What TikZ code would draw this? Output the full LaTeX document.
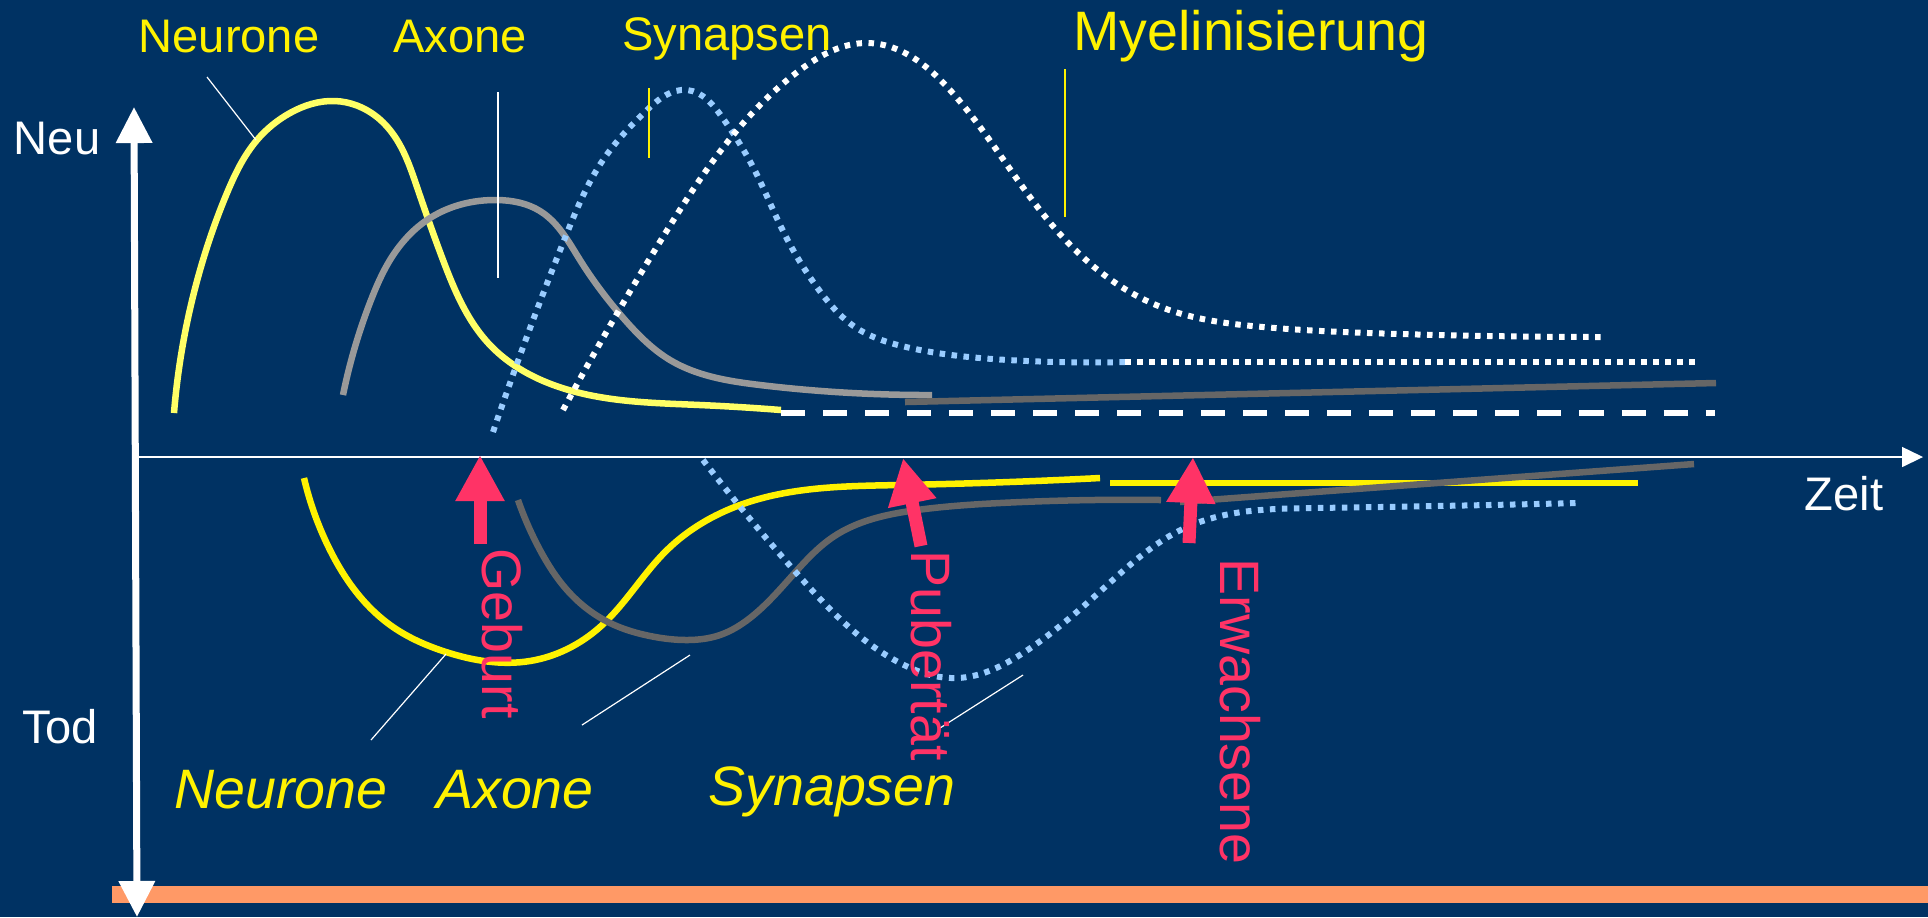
\documentclass[tikz,border=0pt]{standalone}
\usepackage{fontspec}
\setmainfont{Liberation Sans}
\usetikzlibrary{arrows.meta,hobby}
\definecolor{bgblue}{RGB}{0,50,99}
\definecolor{paleyellow}{RGB}{255,255,102}
\definecolor{lightgrey}{RGB}{153,153,153}
\definecolor{darkgrey}{RGB}{102,102,102}
\definecolor{dotblue}{RGB}{153,204,255}
\definecolor{evpink}{RGB}{255,51,102}
\definecolor{barorange}{RGB}{255,153,102}
\begin{document}
\begin{tikzpicture}[x=0.01cm,y=-0.01cm,
every node/.style={inner sep=0pt},
lbl/.style={text=yellow,anchor=base,font=\fontsize{13.4}{16}\selectfont},
biglbl/.style={text=yellow,anchor=base,font=\fontsize{15.8}{19}\selectfont},
italbl/.style={text=yellow,anchor=base,font=\fontsize{15.8}{19}\selectfont\itshape},
axlbl/.style={text=white,anchor=base,font=\fontsize{13.4}{16}\selectfont},
eventlbl/.style={text=evpink,rotate=-90,anchor=base west,font=\fontsize{15.8}{19}\selectfont},
evarrow/.style={evpink,line width=0.13cm,-{Triangle[width=0.46cm,length=0.46cm]}},
curve/.style={line width=0.065cm},
dots/.style={line width=0.06cm,dash pattern=on 0.055cm off 0.065cm},
ptr/.style={white,line width=0.012cm}]

\useasboundingbox (0,0) rectangle (1928,917);
\fill[bgblue] (0,0) rectangle (1928,917);
\fill[barorange] (112,886) rectangle (1928,903);

% upper curves
\draw[curve,paleyellow] (174,413) to[curve through={(203,260) (227,193) (257,140) (290,113)
  (335,101) (377,117) (397,140) (417,187) (443,260) (490,345) (580,393) (700,405)}] (781,410);
\draw[white,line width=0.055cm,dash pattern=on 0.24cm off 0.18cm] (781,413) -- (1715,413);
\draw[curve,lightgrey] (343,395) to[curve through={(371,300) (390,260) (427,220) (497,200)
  (540,211) (580,260) (625,320) (670,360) (760,385)}] (932,395);
\draw[darkgrey,line width=0.065cm] (905,402) -- (1716,383);
\draw[curve,dots,dotblue] (493,432) to[curve through={(567,233) (603,160) (647,110) (687,90)
  (722,117) (753,167) (784,233) (819,290) (855,327) (906,347) (1008,360)}] (1125,362);
\draw[dots,white] (1125,362) -- (1697,362);
\draw[curve,dots,white] (563,410) to[curve through={(666,232) (800,70) (867,43)
  (950,90) (1059,233) (1161,307) (1263,327) (1400,334)}] (1602,337);

% lower curves
\draw[curve,yellow] (304,478) to[curve through={(330,550) (357,593) (393,627) (446,652)
  (530,661) (600,627) (667,550) (740,505) (900,485)}] (1100,478);
\draw[yellow,line width=0.065cm] (1110,483) -- (1638,483);
\draw[curve,darkgrey] (518,500) to[curve through={(540,550) (567,590) (610,623) (650,636)
  (687,640) (720,635) (750,618) (800,567) (833,537) (917,510) (1000,503)}] (1161,500);
\draw[darkgrey,line width=0.065cm] (1180,502) -- (1694,464);
\draw[curve,dots,dotblue] (703,460) to[curve through={(800,577) (900,663) (957,678)
  (1023,653) (1105,587) (1187,527) (1314,508)}] (1580,503);

% axes
\draw[white,line width=0.015cm,-{Triangle[width=0.2cm,length=0.21cm]}] (138,457) -- (1923,457);
\draw[white,line width=0.07cm,{Triangle[width=0.35cm,length=0.36cm]}-{Triangle[width=0.35cm,length=0.36cm]}]
  (134,107) -- (137,917);

% pointers
\draw[ptr] (207,77) -- (256,140);
\draw[ptr] (498,92) -- (498,278);
\draw[yellow,line width=0.012cm] (649,88) -- (649,158);
\draw[yellow,line width=0.012cm] (1065,69) -- (1065,217);
\draw[ptr] (446,654) -- (371,740);
\draw[ptr] (690,655) -- (582,725);
\draw[ptr] (1023,675) -- (940,728);

% events
\draw[evarrow] (480,544) -- (480,455);
\draw[evarrow] (921,546) -- (903,458);
\draw[evarrow] (1189,543) -- (1193,457);

% labels
\node[lbl] (neuroneup) at (229,52) {Neurone};
\node[lbl] (axoneup) at (460,52) {Axone};
\node[lbl] (synapsenup) at (727,50) {Synapsen};
\node[biglbl] (myelin) at (1251,50) {Myelinisierung};
\node[axlbl] (neu) at (57,154) {Neu};
\node[axlbl] (tod) at (60,743) {Tod};
\node[axlbl] (zeit) at (1844,510) {Zeit};
\node[italbl] (neuronedown) at (281,808) {Neurone};
\node[italbl] (axonedown) at (515,808) {Axone};
\node[italbl] (synapsendown) at (832,805) {Synapsen};
\node[eventlbl] (geburt) at (482,548) {Geburt};
\node[eventlbl] (pubertaet) at (911,550) {Pubertät};
\node[eventlbl] (erwachsene) at (1220,558) {Erwachsene};
\end{tikzpicture}
\end{document}
